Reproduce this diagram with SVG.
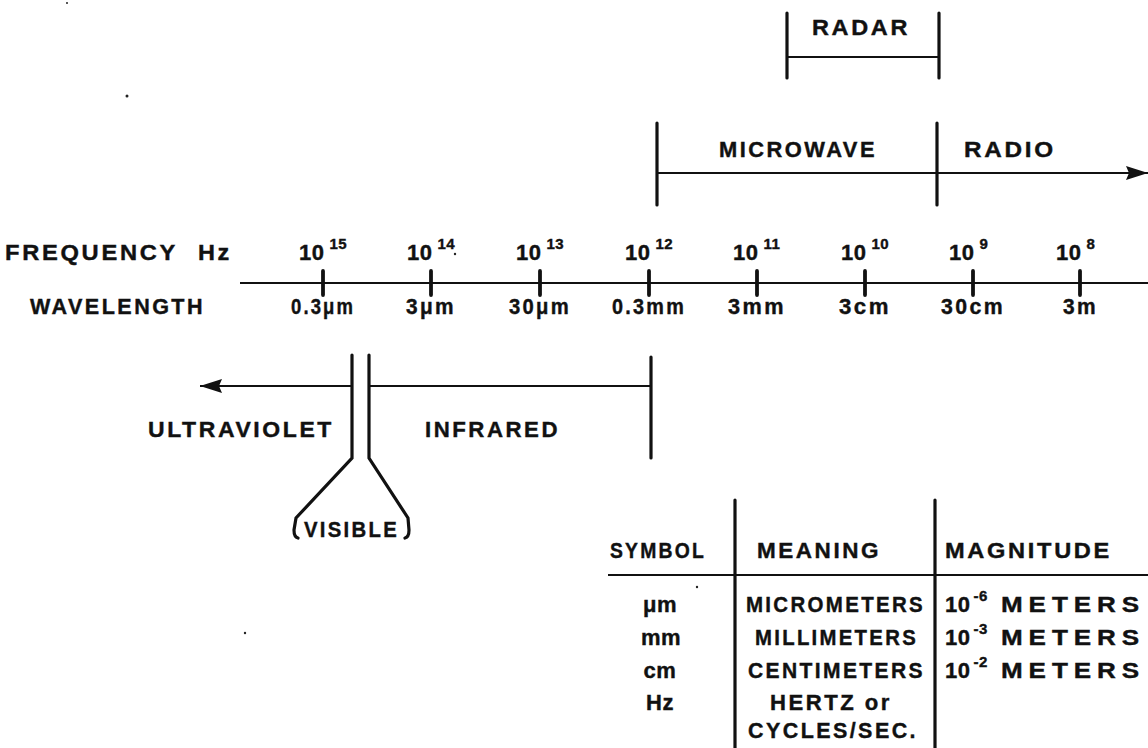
<svg xmlns="http://www.w3.org/2000/svg" width="1148" height="748" viewBox="0 0 1148 748">
  <defs>
    <style>
      .t { font-family: "Liberation Sans", Arial, Helvetica, sans-serif; font-weight: bold; font-size: 22px; fill: #111; stroke: #111; stroke-width: 0.4px; letter-spacing: 2.5px; }
      .n { letter-spacing: 0.5px; }
      .wide { letter-spacing: 5px; }
      .sup { font-size: 15px; letter-spacing: 0.5px; }
      .c { text-anchor: middle; }
      .ln { stroke: #111; stroke-width: 2.2; fill: none; }
      .bar { stroke: #111; stroke-width: 3.2; fill: none; stroke-linecap: round; }
      .tick { stroke: #111; stroke-width: 3.8; stroke-linecap: round; }
      .speck { fill: #222; }
    </style>
    <marker id="head" viewBox="0 0 22 14" refX="22" refY="7" markerWidth="22" markerHeight="14" markerUnits="userSpaceOnUse" orient="auto">
      <path d="M0,0 L22,7 L0,14 L3,7 Z" fill="#111"/>
    </marker>
  </defs>
  <rect width="1148" height="748" fill="#fff"/>

  <!-- band brackets, range arrows and the scale -->
  <g id="connectors">
    <!-- radar band -->
    <line class="bar" x1="787" y1="13" x2="787" y2="78"/>
    <line class="bar" x1="939" y1="13" x2="939" y2="78"/>
    <line class="ln" x1="787" y1="57" x2="939" y2="57"/>
    <!-- microwave / radio -->
    <line class="bar" x1="657" y1="123" x2="657" y2="205"/>
    <line class="bar" x1="937" y1="123" x2="937" y2="205"/>
    <line class="ln" x1="657" y1="173" x2="1148" y2="173" marker-end="url(#head)"/>
    <!-- frequency / wavelength scale -->
    <line class="ln" x1="240" y1="283" x2="1148" y2="283"/>
    <line class="tick" x1="323" y1="271" x2="323" y2="295"/>
    <line class="tick" x1="431" y1="271" x2="431" y2="295"/>
    <line class="tick" x1="540" y1="271" x2="540" y2="295"/>
    <line class="tick" x1="649" y1="271" x2="649" y2="295"/>
    <line class="tick" x1="757" y1="271" x2="757" y2="295"/>
    <line class="tick" x1="865" y1="271" x2="865" y2="295"/>
    <line class="tick" x1="973" y1="271" x2="973" y2="295"/>
    <line class="tick" x1="1080" y1="271" x2="1080" y2="295"/>
    <!-- ultraviolet / infrared -->
    <line class="ln" x1="352" y1="386" x2="200" y2="386" marker-end="url(#head)"/>
    <line class="ln" x1="369" y1="386" x2="651" y2="386"/>
    <line class="bar" x1="651" y1="357" x2="651" y2="458"/>
    <!-- visible funnel -->
    <path class="bar" d="M352,355 L352,458 L296,518 L294,530 Q294,537 298,538"/>
    <path class="bar" d="M369,355 L369,458 L408,518 L409,530 Q409,537 405,538"/>
  </g>

  <g id="band-labels">
    <text class="t" x="812" y="35" textLength="98" lengthAdjust="spacingAndGlyphs">RADAR</text>
    <text class="t" x="719" y="157" textLength="158" lengthAdjust="spacingAndGlyphs">MICROWAVE</text>
    <text class="t" x="964" y="157" textLength="92" lengthAdjust="spacingAndGlyphs">RADIO</text>
    <text class="t" x="148" y="437" textLength="186" lengthAdjust="spacingAndGlyphs">ULTRAVIOLET</text>
    <text class="t" x="425" y="437" textLength="135" lengthAdjust="spacingAndGlyphs">INFRARED</text>
    <text class="t" x="304" y="537" textLength="95" lengthAdjust="spacingAndGlyphs">VISIBLE</text>
  </g>

  <g id="frequency-row">
    <text class="t" x="5" y="260" textLength="173" lengthAdjust="spacingAndGlyphs">FREQUENCY</text>
    <text class="t" x="198" y="260" textLength="34" lengthAdjust="spacingAndGlyphs">Hz</text>
    <text class="t n" x="299" y="260">10<tspan class="sup" dx="5" dy="-11">15</tspan></text>
    <text class="t n" x="407" y="260">10<tspan class="sup" dx="5" dy="-11">14</tspan></text>
    <text class="t n" x="516" y="260">10<tspan class="sup" dx="5" dy="-11">13</tspan></text>
    <text class="t n" x="625" y="260">10<tspan class="sup" dx="5" dy="-11">12</tspan></text>
    <text class="t n" x="733" y="260">10<tspan class="sup" dx="5" dy="-11">11</tspan></text>
    <text class="t n" x="841" y="260">10<tspan class="sup" dx="5" dy="-11">10</tspan></text>
    <text class="t n" x="949" y="260">10<tspan class="sup" dx="5" dy="-11">9</tspan></text>
    <text class="t n" x="1056" y="260">10<tspan class="sup" dx="5" dy="-11">8</tspan></text>
  </g>

  <g id="wavelength-row">
    <text class="t" x="30" y="314" textLength="175" lengthAdjust="spacingAndGlyphs">WAVELENGTH</text>
    <text class="t" x="291" y="314" textLength="64" lengthAdjust="spacingAndGlyphs">0.3μm</text>
    <text class="t" x="406" y="314" textLength="50" lengthAdjust="spacingAndGlyphs">3μm</text>
    <text class="t" x="509" y="314" textLength="62" lengthAdjust="spacingAndGlyphs">30μm</text>
    <text class="t" x="612" y="314" textLength="74" lengthAdjust="spacingAndGlyphs">0.3mm</text>
    <text class="t" x="728" y="314" textLength="58" lengthAdjust="spacingAndGlyphs">3mm</text>
    <text class="t" x="839" y="314" textLength="52" lengthAdjust="spacingAndGlyphs">3cm</text>
    <text class="t" x="941" y="314" textLength="64" lengthAdjust="spacingAndGlyphs">30cm</text>
    <text class="t" x="1063" y="314" textLength="35" lengthAdjust="spacingAndGlyphs">3m</text>
  </g>

  <g id="symbol-table">
    <line class="bar" x1="735" y1="500" x2="735" y2="750"/>
    <line class="bar" x1="935" y1="500" x2="935" y2="750"/>
    <line class="ln" x1="608" y1="575" x2="1148" y2="575"/>
    <text class="t" x="610" y="558" textLength="96" lengthAdjust="spacingAndGlyphs">SYMBOL</text>
    <text class="t" x="757" y="558" textLength="124" lengthAdjust="spacingAndGlyphs">MEANING</text>
    <text class="t" x="945" y="558" textLength="167" lengthAdjust="spacingAndGlyphs">MAGNITUDE</text>

    <text class="t n c" x="660" y="612">μm</text>
    <text class="t n c" x="661" y="645">mm</text>
    <text class="t n c" x="660" y="678">cm</text>
    <text class="t n c" x="660" y="710">Hz</text>

    <text class="t" x="746" y="612" textLength="179" lengthAdjust="spacingAndGlyphs">MICROMETERS</text>
    <text class="t" x="755" y="645" textLength="163" lengthAdjust="spacingAndGlyphs">MILLIMETERS</text>
    <text class="t" x="748" y="678" textLength="177" lengthAdjust="spacingAndGlyphs">CENTIMETERS</text>
    <text class="t" x="770" y="710" textLength="122" lengthAdjust="spacingAndGlyphs">HERTZ or</text>
    <text class="t" x="748" y="738" textLength="170" lengthAdjust="spacingAndGlyphs">CYCLES/SEC.</text>

    <text class="t n" x="945" y="612">10<tspan class="sup" dx="3" dy="-11">-6</tspan></text>
    <text class="t n" x="945" y="645">10<tspan class="sup" dx="3" dy="-11">-3</tspan></text>
    <text class="t n" x="945" y="678">10<tspan class="sup" dx="3" dy="-11">-2</tspan></text>
    <text class="t wide" x="1001" y="612" textLength="144" lengthAdjust="spacingAndGlyphs">METERS</text>
    <text class="t wide" x="1001" y="645" textLength="144" lengthAdjust="spacingAndGlyphs">METERS</text>
    <text class="t wide" x="1001" y="678" textLength="144" lengthAdjust="spacingAndGlyphs">METERS</text>
  </g>

  <!-- small specks in the paper -->
  <g id="specks">
    <circle class="speck" cx="67" cy="3" r="1"/>
    <circle class="speck" cx="127" cy="96" r="1.5"/>
    <circle class="speck" cx="455" cy="254" r="1.2"/>
    <circle class="speck" cx="245" cy="633" r="1.2"/>
    <circle class="speck" cx="697" cy="587" r="1.2"/>
  </g>
</svg>
